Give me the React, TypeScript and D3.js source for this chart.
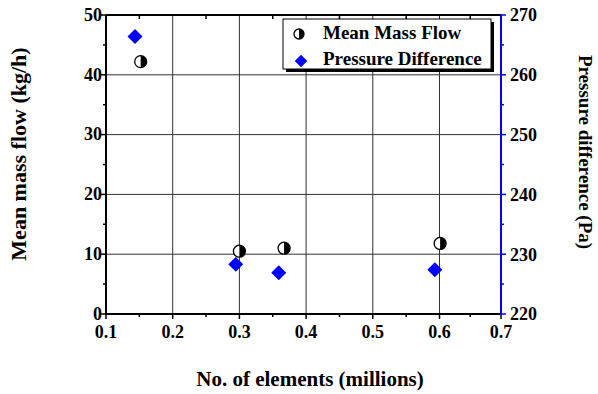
import React from "react";
import * as d3 from "d3";

// Mesh size (millions of elements) for each series
const elementsFlow = [0.152, 0.3, 0.367, 0.601];
const meanMassFlow = [42.2, 10.5, 11.0, 11.8];
const elementsPressure = [0.1435, 0.2945, 0.359, 0.593];
const pressureDiff = [266.4, 228.3, 226.9, 227.4];

const xTicks = [0.1, 0.2, 0.3, 0.4, 0.5, 0.6, 0.7];
const xMinorTicks = [0.15, 0.25, 0.35, 0.45, 0.55, 0.65];
const yLeftTicks = [0, 10, 20, 30, 40, 50];
const yLeftMinor = [5, 15, 25, 35, 45];
const yRightTicks = [220, 230, 240, 250, 260, 270];
const yRightMinor = [225, 235, 245, 255, 265];

const legendLabels = ["Mean Mass Flow", "Pressure Difference"];

const W = 598;
const H = 394;
const FONT = "'Liberation Serif', 'Times New Roman', serif";
const BLUE = "#0000ff";

export default function App() {
  const left = 106;
  const right = 501;
  const top = 15;
  const bottom = 314;

  const x = d3.scaleLinear().domain([0.1, 0.6, 0.7]).range([left, 439.5, right]);
  const yL = d3.scaleLinear().domain([0, 50]).range([bottom, top]);
  const yR = d3.scaleLinear().domain([220, 270]).range([bottom, top]);

  const diamond = d3.symbol().type(d3.symbolDiamond2).size(143)();
  const legendDiamond = d3.symbol().type(d3.symbolDiamond2).size(100)();

  const halfCircle = (cx: number, cy: number, r: number, key: string) => (
    <g key={key} transform={`translate(${cx},${cy})`}>
      <circle r={r} fill="#fff" stroke="#000" strokeWidth={1.3} />
      <path d={`M0,${-r} A${r},${r} 0 0 1 0,${r} Z`} fill="#000" />
    </g>
  );

  const lx = 283;
  const ly = 19;
  const lw = 208;
  const lh = 50;

  return (
    <svg
      width={W}
      height={H}
      style={{ position: "absolute", left: 0, top: 0, background: "#fff" }}
      fontFamily={FONT}
      fontWeight="bold"
    >
      <rect width={W} height={H} fill="#fff" />

      {/* grid */}
      {xTicks.slice(1, -1).map((t) => (
        <line key={"gx" + t} x1={x(t)} x2={x(t)} y1={top} y2={bottom} stroke="#333" strokeWidth={1} />
      ))}
      {yLeftTicks.slice(1, -1).map((t) => (
        <line key={"gy" + t} x1={left} x2={right} y1={yL(t)} y2={yL(t)} stroke="#333" strokeWidth={1} />
      ))}

      {/* top axis with inward ticks */}
      <line x1={left} x2={right} y1={top} y2={top} stroke="#000" strokeWidth={2} />
      {xMinorTicks.map((t) => (
        <line key={"tt" + t} x1={x(t)} x2={x(t)} y1={top} y2={top + 4} stroke="#000" strokeWidth={1.5} />
      ))}

      {/* bottom axis */}
      <line x1={left - 1} x2={right} y1={bottom} y2={bottom} stroke="#000" strokeWidth={2} />
      {xTicks.map((t) => (
        <line key={"bt" + t} x1={x(t)} x2={x(t)} y1={bottom} y2={bottom + 5} stroke="#000" strokeWidth={1.5} />
      ))}
      {xMinorTicks.map((t) => (
        <line key={"bm" + t} x1={x(t)} x2={x(t)} y1={bottom} y2={bottom + 3} stroke="#000" strokeWidth={1.5} />
      ))}
      {xTicks.map((t) => (
        <text key={"bl" + t} x={x(t)} y={bottom + 24} textAnchor="middle" fontSize={18}>
          {d3.format(".1f")(t)}
        </text>
      ))}

      {/* left axis */}
      <line x1={left} x2={left} y1={top} y2={bottom + 1} stroke="#000" strokeWidth={2} />
      {yLeftTicks.map((t) => (
        <line key={"lt" + t} x1={left - 5} x2={left} y1={yL(t)} y2={yL(t)} stroke="#000" strokeWidth={1.5} />
      ))}
      {yLeftMinor.map((t) => (
        <line key={"lm" + t} x1={left - 3} x2={left} y1={yL(t)} y2={yL(t)} stroke="#000" strokeWidth={1.5} />
      ))}
      {yLeftTicks.map((t) => (
        <text key={"ll" + t} x={left - 4} y={yL(t)} dy="0.32em" textAnchor="end" fontSize={18}>
          {t}
        </text>
      ))}

      {/* right axis */}
      <line x1={right} x2={right} y1={top} y2={bottom + 1} stroke={BLUE} strokeWidth={2} />
      {yRightTicks.map((t) => (
        <line key={"rt" + t} x1={right} x2={right + 5} y1={yR(t)} y2={yR(t)} stroke={BLUE} strokeWidth={1.5} />
      ))}
      {yRightMinor.map((t) => (
        <line key={"rm" + t} x1={right} x2={right + 3} y1={yR(t)} y2={yR(t)} stroke={BLUE} strokeWidth={1.5} />
      ))}
      {yRightTicks.map((t) => (
        <text key={"rl" + t} x={right + 9} y={yR(t)} dy="0.35em" textAnchor="start" fontSize={18}>
          {t}
        </text>
      ))}

      {/* axis titles */}
      <text x={310} y={386} textAnchor="middle" fontSize={21}>
        No. of elements (millions)
      </text>
      <text transform={`translate(26,154) rotate(-90)`} textAnchor="middle" fontSize={22}>
        Mean mass flow (kg/h)
      </text>
      <text transform={`translate(579,152) rotate(90)`} textAnchor="middle" fontSize={19}>
        Pressure difference (Pa)
      </text>

      {/* data */}
      {pressureDiff.map((v, i) => (
        <path key={"d" + i} d={diamond} transform={`translate(${x(elementsPressure[i])},${yR(v)})`} fill={BLUE} />
      ))}
      {meanMassFlow.map((v, i) => halfCircle(x(elementsFlow[i]), yL(v), 6, "c" + i))}

      {/* legend */}
      <rect x={lx + 3} y={ly + 3} width={lw} height={lh} fill="#000" />
      <rect x={lx} y={ly} width={lw} height={lh} fill="#fff" stroke="#000" strokeWidth={1} />
      {halfCircle(lx + 16, ly + 15, 5, "lc")}
      <path d={legendDiamond} transform={`translate(${lx + 18},${ly + 42})`} fill={BLUE} />
      <text x={lx + 40} y={ly + 20} fontSize={19}>
        {legendLabels[0]}
      </text>
      <text x={lx + 40} y={ly + 46} fontSize={19}>
        {legendLabels[1]}
      </text>
    </svg>
  );
}
